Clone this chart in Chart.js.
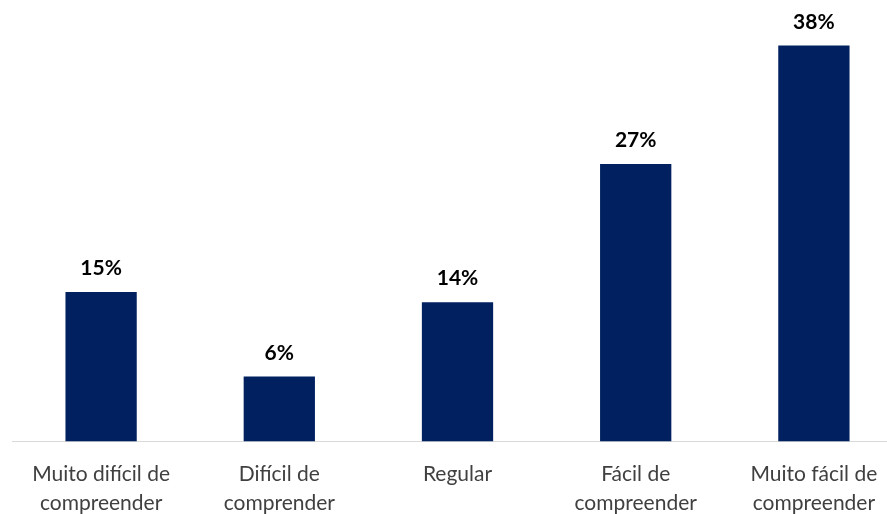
<!DOCTYPE html>
<html>
<head>
<meta charset="utf-8">
<script src="https://cdn.jsdelivr.net/npm/chart.js@4/dist/chart.umd.min.js"></script>
<style>
  html, body { margin: 0; padding: 0; background: #fff; overflow: hidden; }
  #wrap { width: 903px; height: 514px; position: relative; }
</style>
</head>
<body>
<div id="wrap"><canvas id="barChart"></canvas></div>
<script>
// Data
const categories = [
    ['Muito difícil de', 'compreender'],
    ['Difícil de', 'comprender'],
    'Regular',
    ['Fácil de', 'compreender'],
    ['Muito fácil de', 'compreender']
];
const percentValues = [14.5, 6.3, 13.5, 26.9, 38.4];
const yMax = 40;

// draws the % above each bar
const valueLabels = {
    id: 'valueLabels',
    afterDatasetsDraw(chart) {
        const ctx = chart.ctx;
        const meta = chart.getDatasetMeta(0);
        ctx.save();
        ctx.font = 'bold 21px Lato';
        ctx.fillStyle = '#000';
        ctx.textAlign = 'center';
        ctx.textBaseline = 'alphabetic';
        meta.data.forEach(function(bar, i) {
            ctx.fillText(Math.round(percentValues[i]) + '%', bar.x, bar.y - 17);
        });
        ctx.restore();
    }
};

const barCtx = document.getElementById('barChart').getContext('2d');
const barChart = new Chart(barCtx, {
    type: 'bar',
    data: {
        labels: categories,
        datasets: [{
            data: percentValues,
            backgroundColor: '#002060',
            categoryPercentage: 1,
            barPercentage: 0.4
        }]
    },
    options: {
        responsive: true,
        maintainAspectRatio: false,
        animation: false,
        layout: {
            padding: { top: 29, left: 12, right: 0, bottom: 0 }
        },
        plugins: {
            legend: { display: false },
            tooltip: { enabled: false }
        },
        scales: {
            x: {
                grid: { display: false },
                border: { display: true, color: '#d9d9d9', width: 1 },
                ticks: {
                    color: '#404040',
                    font: { family: 'Lato', size: 21, lineHeight: 1.38 },
                    padding: 10,
                    maxRotation: 0
                },
                afterFit: function(axis) {
                    axis.height = 72.5; // keep the baseline where the picture has it
                }
            },
            y: {
                display: false,
                min: 0,
                max: yMax
            }
        }
    },
    plugins: [valueLabels]
});
</script>
</body>
</html>
